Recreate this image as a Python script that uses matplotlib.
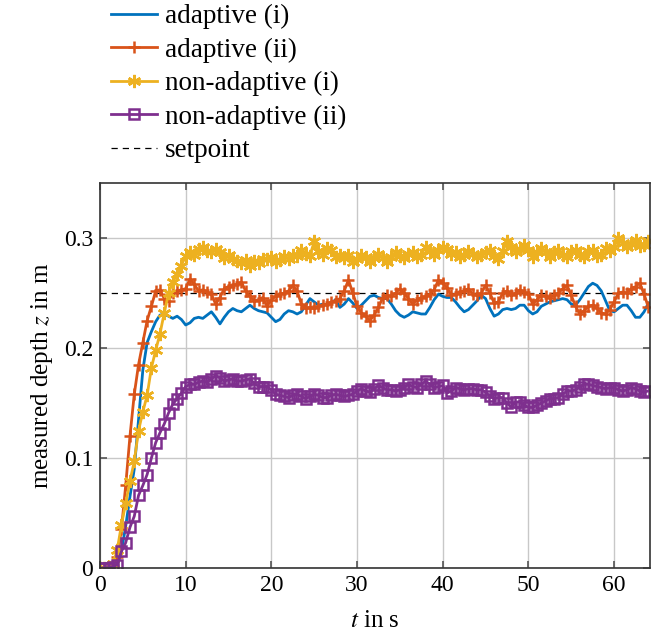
import matplotlib
matplotlib.use('Agg')
import matplotlib.pyplot as plt
import numpy as np

plt.rcParams['font.family'] = ['Liberation Serif', 'DejaVu Serif']
plt.rcParams['mathtext.fontset'] = 'stix'

# time grid, one sample every 0.5 s
t = np.arange(0, 64.01, 0.5)

adaptive_i = [
    0.000, 0.000, 0.000, 0.001, 0.002, 0.015, 0.038, 0.065, 0.090, 0.135,
    0.180, 0.205, 0.215, 0.224, 0.230, 0.231, 0.229, 0.227, 0.229, 0.226,
    0.221, 0.223, 0.227, 0.228, 0.227, 0.230, 0.233, 0.228, 0.222, 0.228,
    0.233, 0.236, 0.234, 0.233, 0.236, 0.239, 0.236, 0.234, 0.233, 0.232,
    0.228, 0.224, 0.226, 0.231, 0.234, 0.233, 0.231, 0.233, 0.239, 0.245,
    0.242, 0.239, 0.240, 0.239, 0.241, 0.244, 0.237, 0.240, 0.245, 0.241,
    0.236, 0.239, 0.243, 0.247, 0.248, 0.246, 0.245, 0.245, 0.240, 0.234,
    0.230, 0.228, 0.230, 0.233, 0.232, 0.231, 0.231, 0.237, 0.244, 0.249,
    0.247, 0.246, 0.246, 0.242, 0.237, 0.233, 0.235, 0.239, 0.243, 0.248,
    0.245, 0.236, 0.229, 0.231, 0.235, 0.236, 0.235, 0.236, 0.239, 0.239,
    0.234, 0.231, 0.233, 0.238, 0.240, 0.242, 0.243, 0.244, 0.245, 0.244,
    0.240, 0.239, 0.244, 0.250, 0.256, 0.259, 0.257, 0.252, 0.243, 0.234,
    0.233, 0.236, 0.239, 0.239, 0.234, 0.228, 0.228, 0.233, 0.241,
]

adaptive_ii = [
    0.000, 0.000, 0.001, 0.003, 0.010, 0.035, 0.075, 0.120, 0.158, 0.185,
    0.205, 0.225, 0.238, 0.252, 0.253, 0.245, 0.243, 0.250, 0.252, 0.253,
    0.254, 0.263, 0.258, 0.252, 0.253, 0.251, 0.249, 0.240, 0.246, 0.254,
    0.256, 0.257, 0.258, 0.260, 0.252, 0.247, 0.243, 0.244, 0.246, 0.238,
    0.244, 0.247, 0.249, 0.250, 0.252, 0.257, 0.252, 0.240, 0.236, 0.237,
    0.236, 0.238, 0.239, 0.240, 0.242, 0.243, 0.245, 0.252, 0.262, 0.250,
    0.238, 0.232, 0.229, 0.225, 0.230, 0.237, 0.246, 0.248, 0.247, 0.250,
    0.254, 0.250, 0.245, 0.240, 0.244, 0.246, 0.247, 0.249, 0.253, 0.262,
    0.259, 0.255, 0.248, 0.249, 0.251, 0.252, 0.254, 0.249, 0.248, 0.250,
    0.257, 0.250, 0.241, 0.242, 0.250, 0.252, 0.248, 0.250, 0.253, 0.251,
    0.249, 0.240, 0.244, 0.248, 0.247, 0.246, 0.248, 0.250, 0.254, 0.257,
    0.248, 0.238, 0.231, 0.234, 0.238, 0.239, 0.236, 0.232, 0.231, 0.235,
    0.242, 0.250, 0.251, 0.250, 0.254, 0.256, 0.259, 0.249, 0.237,
]

non_adaptive_i = [
    0.000, 0.000, 0.001, 0.004, 0.016, 0.039, 0.059, 0.079, 0.097, 0.125,
    0.142, 0.157, 0.182, 0.198, 0.213, 0.232, 0.250, 0.260, 0.267, 0.275,
    0.284, 0.287, 0.285, 0.290, 0.292, 0.288, 0.287, 0.290, 0.287, 0.282,
    0.285, 0.281, 0.279, 0.277, 0.280, 0.275, 0.279, 0.277, 0.281, 0.281,
    0.283, 0.278, 0.280, 0.284, 0.281, 0.285, 0.284, 0.289, 0.286, 0.284,
    0.297, 0.288, 0.285, 0.291, 0.289, 0.283, 0.285, 0.282, 0.285, 0.278,
    0.281, 0.285, 0.283, 0.278, 0.282, 0.286, 0.282, 0.278, 0.283, 0.287,
    0.284, 0.282, 0.286, 0.287, 0.283, 0.285, 0.292, 0.288, 0.285, 0.289,
    0.292, 0.290, 0.286, 0.287, 0.283, 0.285, 0.288, 0.286, 0.283, 0.285,
    0.287, 0.289, 0.284, 0.281, 0.288, 0.297, 0.292, 0.287, 0.290, 0.294,
    0.289, 0.283, 0.287, 0.291, 0.287, 0.283, 0.287, 0.289, 0.285, 0.283,
    0.288, 0.289, 0.285, 0.283, 0.288, 0.289, 0.284, 0.285, 0.291, 0.288,
    0.292, 0.300, 0.296, 0.292, 0.295, 0.298, 0.293, 0.294, 0.297,
]

non_adaptive_ii = [
    0.000, 0.000, 0.000, 0.001, 0.003, 0.015, 0.023, 0.037, 0.047, 0.066,
    0.075, 0.085, 0.100, 0.114, 0.123, 0.131, 0.141, 0.149, 0.154, 0.159,
    0.165, 0.167, 0.167, 0.169, 0.170, 0.169, 0.172, 0.175, 0.173, 0.170,
    0.171, 0.172, 0.170, 0.170, 0.171, 0.172, 0.168, 0.165, 0.165, 0.165,
    0.162, 0.158, 0.157, 0.156, 0.155, 0.157, 0.158, 0.156, 0.154, 0.156,
    0.158, 0.157, 0.155, 0.155, 0.157, 0.158, 0.157, 0.156, 0.157, 0.158,
    0.161, 0.163, 0.161, 0.160, 0.163, 0.166, 0.164, 0.162, 0.162, 0.161,
    0.162, 0.164, 0.167, 0.165, 0.164, 0.167, 0.170, 0.167, 0.164, 0.165,
    0.166, 0.159, 0.161, 0.164, 0.163, 0.162, 0.163, 0.163, 0.162, 0.162,
    0.160, 0.156, 0.154, 0.155, 0.155, 0.150, 0.146, 0.151, 0.151, 0.148,
    0.146, 0.146, 0.148, 0.150, 0.152, 0.154, 0.154, 0.155, 0.158, 0.161,
    0.161, 0.162, 0.165, 0.167, 0.167, 0.166, 0.165, 0.164, 0.163, 0.164,
    0.164, 0.162, 0.161, 0.162, 0.164, 0.163, 0.161, 0.160, 0.161,
]

setpoint = 0.25

c_blue = '#0072BD'
c_orange = '#D95319'
c_yellow = '#EDB120'
c_purple = '#7E2F8E'

fig = plt.figure(figsize=(6.6, 6.36), dpi=100)
ax = fig.add_axes([0.1515, 0.107, 0.8335, 0.605])

ax.plot(t, adaptive_i, color=c_blue, lw=2.0, label='adaptive (i)')
ax.plot(t, adaptive_ii, color=c_orange, lw=2.0, marker='+', ms=9, mew=1.8,
        label='adaptive (ii)')
ax.plot(t, non_adaptive_i, color=c_yellow, lw=2.0, marker=(6, 2, 0), ms=9.5, mew=1.8,
        label='non-adaptive (i)')
ax.plot(t, non_adaptive_ii, color=c_purple, lw=2.0, marker='s', ms=6.5, mew=1.8,
        mfc='none', label='non-adaptive (ii)')
ax.axhline(setpoint, color='black', lw=0.9, ls=(0, (5, 4)), label='setpoint', zorder=1)

ax.set_xlim(0, 64.2)
ax.set_ylim(0, 0.35)
ax.set_xticks([0, 10, 20, 30, 40, 50, 60])
ax.set_yticks([0, 0.1, 0.2, 0.3])
ax.set_yticklabels(['0', '0.1', '0.2', '0.3'])
ax.grid(True, color='#c8c8c8', lw=1.0)
ax.set_axisbelow(True)
ax.tick_params(direction='in', top=True, right=True, length=5, width=1.2,
               labelsize=17, color='#555555', pad=5)
for s in ax.spines.values():
    s.set_linewidth(1.2)
    s.set_color('#333333')

ax.set_xlabel('$t$ in s', fontsize=18, labelpad=10)
ax.set_ylabel('measured depth $z$ in m', fontsize=18, labelpad=6)

ax.legend(loc='upper left', bbox_to_anchor=(111 / 660, 1.0 - 4 / 636),
          bbox_transform=fig.transFigure,
          frameon=False, fontsize=19.5, numpoints=1, handlelength=1.7,
          labelspacing=0.31, handletextpad=0.3, borderpad=0.0, borderaxespad=0.0)

fig.savefig('out.png', dpi=100)
